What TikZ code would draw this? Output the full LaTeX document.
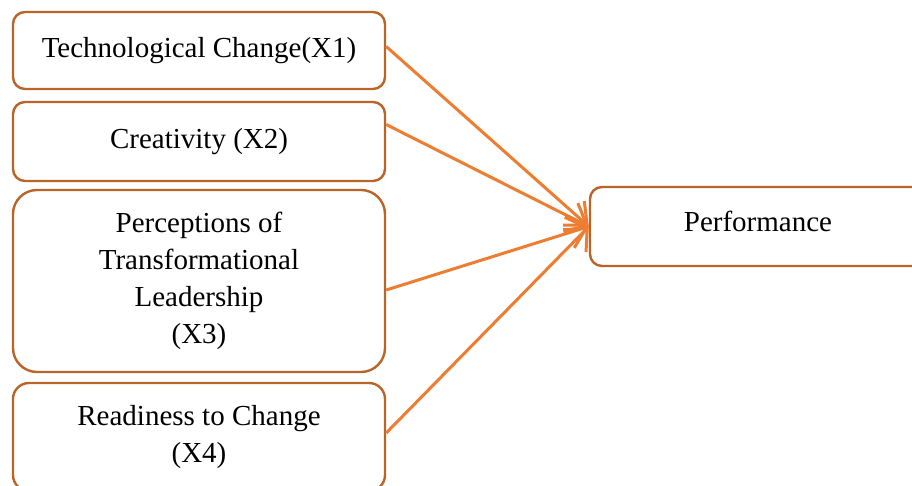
\documentclass[tikz,border=0pt]{standalone}
\usepackage{fontspec}
\setmainfont{Liberation Serif}
\usepackage{tikz}
\usetikzlibrary{arrows.meta}

\definecolor{boxline}{RGB}{185,100,40}
\definecolor{arrline}{RGB}{237,125,49}

\begin{document}
\begin{tikzpicture}[x=0.5pt, y=-0.5pt,
    varbox/.style={draw=boxline,
        line width=1.2pt,
        rounded corners=6pt,
        align=center,
        minimum width=186pt,
        font=\fontsize{14.5}{18.5}\selectfont},
    link/.style={draw=arrline,
        line width=1.5pt,
        -{Straight Barb[length=9pt,width=16pt,line width=1.5pt]}}]

\clip (0,0) rectangle (912,486);

\node [varbox,
    minimum height=38.5pt] (X1) at (199,50.5) {Technological Change(X1)};

\node [varbox,
    minimum height=39.5pt] (X2) at (199,141.5) {Creativity (X2)};

\node [varbox,
    rounded corners=12pt,
    minimum height=91pt] (X3) at (199,281) {Perceptions of\\Transformational\\Leadership\\(X3)};

\node [varbox,
    rounded corners=8pt,
    minimum height=54pt] (X4) at (199,437) {Readiness to Change\\(X4)};

\node [varbox,
    minimum width=168pt,
    minimum height=39.5pt,
    text depth=5.5pt] (Y) at (758,226.5) {Performance};

\draw [link] ([yshift=2pt]X1.east) -- (Y.west);
\draw [link] ([yshift=8.5pt]X2.east) -- (Y.west);
\draw [link] ([yshift=-4.5pt]X3.east) -- (Y.west);
\draw [link] ([yshift=2pt]X4.east) -- (Y.west);

\end{tikzpicture}
\end{document}
